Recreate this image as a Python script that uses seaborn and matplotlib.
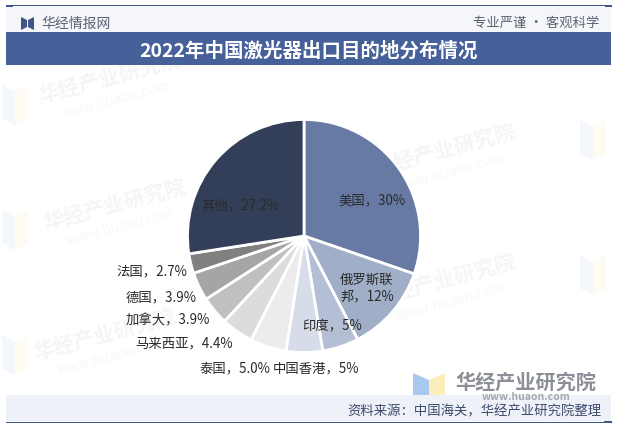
import matplotlib
matplotlib.use('Agg')
import matplotlib.pyplot as plt
from matplotlib.patches import Rectangle, Polygon
import seaborn as sns

# 数据
地区 = ['美国', '俄罗斯联邦', '印度', '中国香港', '泰国', '马来西亚', '加拿大', '德国', '法国', '其他']
占比 = [30, 12, 5, 5, 5.0, 4.4, 3.9, 3.9, 2.7, 27.2]
占比文字 = ['30%', '12%', '5%', '5%', '5.0%', '4.4%', '3.9%', '3.9%', '2.7%', '27.2%']
颜色 = ['#667aa3', '#a0aec8', '#b4bed4', '#d6dde9', '#ececec',
      '#dcdcdc', '#c0c0c0', '#a5a5a5', '#808080', '#333f58']

sns.set_theme(style='white')
plt.rcParams['font.family'] = ['Noto Sans CJK SC', 'DejaVu Sans']

H = 429
fig = plt.figure(figsize=(6.18, 4.29), dpi=100)
ax = fig.add_axes([0, 0, 1, 1])

wedges, _ = ax.pie(占比, colors=sns.color_palette(颜色), startangle=90, counterclock=False,
                   center=(304, H - 236), radius=116.5,
                   wedgeprops={'edgecolor': 'white', 'linewidth': 2, 'zorder': 3})
ax.set_xlim(0, 618)
ax.set_ylim(0, H)
ax.axis('off')


def rect(x0, y0, x1, y1, c, z=1):
    ax.add_patch(Rectangle((x0, H - y1), x1 - x0, y1 - y0, fc=c, ec='none', zorder=z))


def txt(x, y, s, size=9.6, c='#262626', ha='center', z=6, **kw):
    ax.text(x, H - y, s, fontsize=size, color=c, ha=ha, va='center', zorder=z, **kw)


# 水印
for x, y in [(110, 78), (115, 205), (105, 335), (445, 150), (445, 280)]:
    ax.text(x, H - y, '华经产业研究院', fontsize=15, color='#f5f5f7', rotation=15,
            ha='center', va='center', fontweight='bold', zorder=0)
    ax.text(x + 6, H - y - 22, 'www.huaon.com', fontsize=10, color='#f8f8fa', rotation=15,
            ha='center', va='center', zorder=0)
for x, y in [(2, 85), (2, 210), (2, 335), (580, 120), (580, 255)]:
    ax.add_patch(Polygon([(x, H - y), (x + 13, H - y - 7), (x + 13, H - y - 40), (x, H - y - 33)],
                         fc='#f4f7fc', ec='none', zorder=0))
    ax.add_patch(Polygon([(x + 13, H - y - 7), (x + 26, H - y), (x + 26, H - y - 33), (x + 13, H - y - 40)],
                         fc='#fefbf2', ec='none', zorder=0))

# 页眉
rect(6, 6, 611, 32, '#f4f6fa')
rect(6, 5, 612, 6, '#3f5585', 2)
rect(6, 4.5, 13, 6.5, '#3f5585', 2)
rect(605, 4.5, 612, 6.5, '#3f5585', 2)
rect(6, 32, 611, 65, '#46609a', 2)
ax.add_patch(Polygon([(21, H - 17), (27, H - 20), (27, H - 27), (21, H - 30)], fc='#3f5585', ec='none', zorder=3))
ax.add_patch(Polygon([(34, H - 17), (28, H - 20), (28, H - 27), (34, H - 30)], fc='#3f5585', ec='none', zorder=3))
txt(41, 24, '华经情报网', 10, '#5b6170', ha='left')
txt(599, 23, '专业严谨 • 客观科学', 9.6, '#5b6170', ha='right')
txt(309, 51, '2022年中国激光器出口目的地分布情况', 14, 'white', fontweight='bold')

# 右下角标识
ax.add_patch(Polygon([(413, H - 373), (429, H - 380), (429, H - 408), (413, H - 408)], fc='#a9c8f0', ec='none', zorder=1))
ax.add_patch(Polygon([(429, H - 380), (445, H - 373), (445, H - 408), (429, H - 408)], fc='#fbeeb8', ec='none', zorder=1))
txt(526, 382, '华经产业研究院', 14.5, '#8c8f96', fontweight='bold', z=1)

# 页脚
rect(6, 395, 611, 421, '#eef1f7', 2)
rect(6, 421.5, 612, 422.5, '#3f5585', 3)
rect(604, 420.5, 612, 423, '#3f5585', 3)
txt(601, 411, '资料来源：中国海关，华经产业研究院整理', 9.6, '#3c4a6b', ha='right')
txt(526, 397, 'www.huaon.com', 7.5, '#a4a7ad', fontweight='bold', z=3)

# 标签
位置 = [(372, 200), (367, 288), (332, 325), (316, 368), (235, 368),
      (184, 343), (168, 320), (161, 297), (152, 271), (240, 205)]
for 名称, 文字, (x, y) in zip(地区, 占比文字, 位置):
    if 名称 == '俄罗斯联邦':
        s = '俄罗斯联\n邦，' + 文字
    else:
        s = 名称 + '，' + 文字
    txt(x, y, s, 9.6, '#2a2a2a', linespacing=1.25)

fig.savefig('out.png', dpi=100, facecolor='white')
